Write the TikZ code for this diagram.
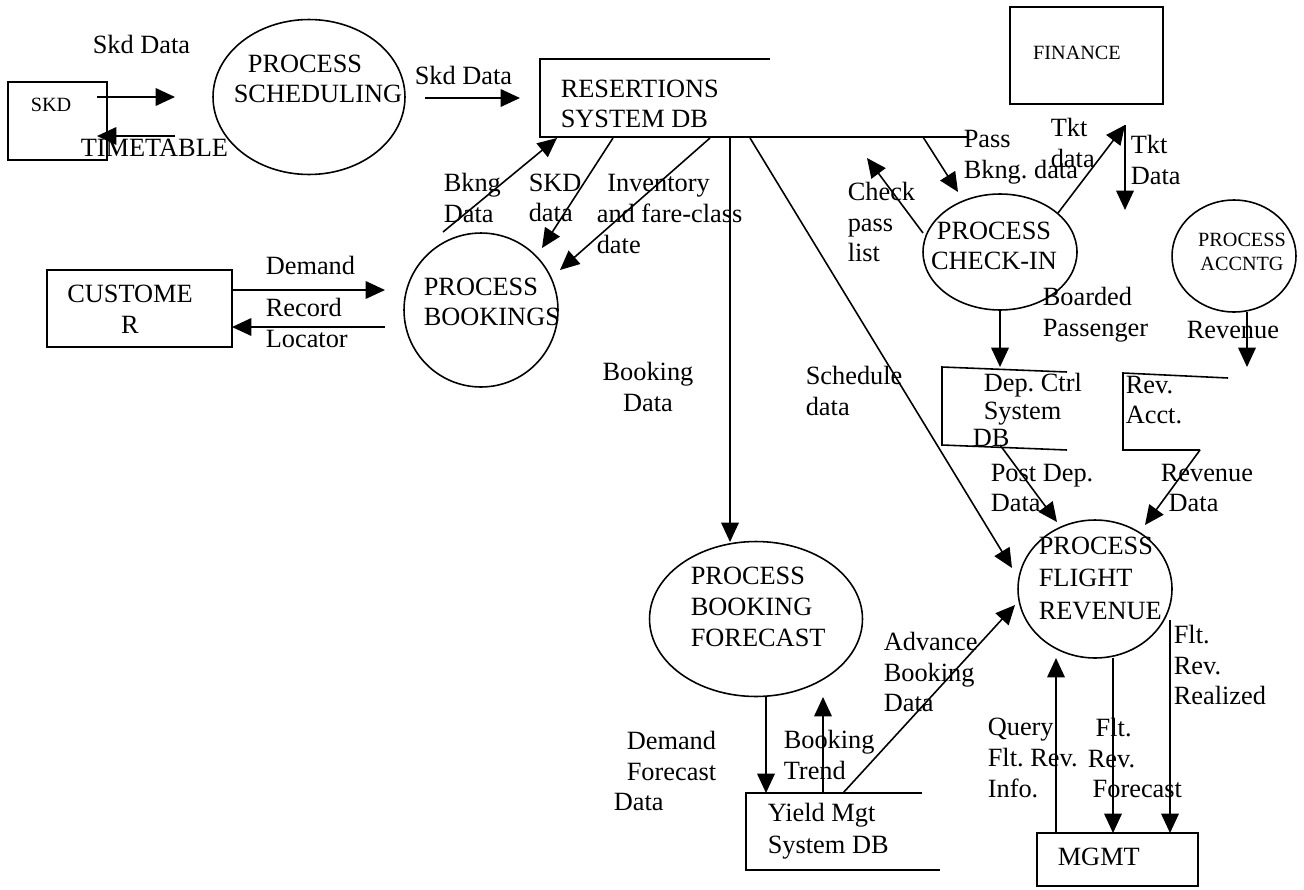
\documentclass[tikz,border=0pt]{standalone}
\usepackage{fontspec}
\setmainfont{Liberation Serif}
\usetikzlibrary{arrows.meta,shapes.geometric}
\frenchspacing
\begin{document}
\begin{tikzpicture}[x=0.02cm,y=-0.02cm,
  line width=0.9pt,
  flow/.style={-{Triangle[length=11pt,width=10pt]}},
  proc/.style={draw,ellipse,inner sep=0pt},
  ent/.style={draw,rectangle,inner sep=0pt},
  lbl/.style={anchor=west,align=left,inner sep=0pt,font=\fontsize{15}{17.5}\selectfont},
  clbl/.style={align=center,inner sep=0pt,font=\fontsize{15}{17.5}\selectfont},
  small/.style={align=center,inner sep=0pt,font=\fontsize{11.5}{14}\selectfont},
]
\useasboundingbox (0,0) rectangle (1304,889);

% ---------- external entities ----------
\node[ent,minimum width=1.98cm,minimum height=1.56cm] (skd) at (57.5,121) {};
\node[small,anchor=west] (skdT) at (30,105) {SKD};
\node[ent,minimum width=3.70cm,minimum height=1.54cm] (cust) at (139.5,308.5) {};
\node[clbl] (custT) at (130,309) {CUSTOME\\R};
\node[ent,minimum width=3.06cm,minimum height=1.94cm] (fin) at (1086.5,55.5) {};
\node[small] (finT) at (1077,53) {FINANCE};
\node[ent,minimum width=3.22cm,minimum height=1.06cm] (mgmt) at (1117.5,859.5) {};
\node[lbl] (mgmtT) at (1057,857) {MGMT};

% ---------- processes ----------
\node[proc,minimum width=3.84cm,minimum height=3.10cm] (sched) at (309,97) {};
\node[lbl] (schedT) at (233,79) {\hspace*{8pt}PROCESS\\SCHEDULING};
\node[proc,minimum width=3.08cm,minimum height=3.08cm] (book) at (481,310) {};
\node[lbl] (bookT) at (423,302) {PROCESS\\BOOKINGS};
\node[proc,minimum width=3.08cm,minimum height=2.32cm] (checkin) at (1000,252) {};
\node[clbl] (checkinT) at (994,246) {PROCESS\\CHECK-IN};
\node[proc,minimum width=2.48cm,minimum height=2.24cm] (accntg) at (1234,256) {};
\node[small] (accntgT) at (1242,252) {PROCESS\\ACCNTG};
\node[proc,minimum width=3.08cm,minimum height=2.76cm] (flight) at (1095,589) {};
\node[lbl,font=\fontsize{15}{18.5}\selectfont] (flightT) at (1038,578) {PROCESS\\FLIGHT\\REVENUE};
\node[proc,minimum width=4.26cm,minimum height=3.10cm] (fcast) at (756,619) {};
\node[lbl,font=\fontsize{15}{17.8}\selectfont] (fcastT) at (690,607) {PROCESS\\BOOKING\\FORECAST};

% ---------- data stores ----------
\draw (770,59) -- (540,59) -- (540,137) -- (967,137);
\node[lbl] (resT) at (560,104) {RESERTIONS\\SYSTEM DB};
\draw (1067,372) -- (942,367) -- (942,445) -- (1067,450);
\node[lbl,font=\fontsize{15}{15.6}\selectfont] (depT) at (983,410) {Dep. Ctrl\\System\\\hspace*{-6.2pt}DB};
\draw (1228,378) -- (1123,373) -- (1123,450) -- (1200,450);
\node[lbl] (revT) at (1125,400) {Rev.\\Acct.};
\draw (922,793) -- (746,793) -- (746,870) -- (940,870);
\node[lbl,font=\fontsize{15}{18.5}\selectfont] (yieldT) at (767,831) {Yield Mgt\\System DB};

% ---------- flows ----------
\coordinate (f1a) at (97,97);    \coordinate (f1b) at (175,97);
\draw[flow] (f1a) -- (f1b);
\node[lbl] (f1T) at (92,44) {Skd Data};
\coordinate (f2a) at (175,136);  \coordinate (f2b) at (97,136);
\draw[flow] (f2a) -- (f2b);
\node[lbl] (f2T) at (80,148) {TIMETABLE};
\coordinate (f3a) at (425,98);   \coordinate (f3b) at (520,98);
\draw[flow] (f3a) -- (f3b);
\node[lbl] (f3T) at (414,75) {Skd Data};

\coordinate (f4a) at (443,232);  \coordinate (f4b) at (557,138);
\draw[flow] (f4a) -- (f4b);
\node[lbl] (f4T) at (443,198) {Bkng\\Data};
\coordinate (f5a) at (613,138);  \coordinate (f5b) at (542,248);
\draw[flow] (f5a) -- (f5b);
\node[lbl] (f5T) at (528,198) {SKD\\data};
\coordinate (f6a) at (710,138);  \coordinate (f6b) at (560,270);
\draw[flow] (f6a) -- (f6b);
\node[lbl] (f6T) at (596,214) {\hspace*{6pt}Inventory\\and fare-class\\date};

\coordinate (f7a) at (730,138);  \coordinate (f7b) at (730,542);
\draw[flow] (f7a) -- (f7b);
\node[clbl] (f7T) at (648,387) {Booking\\Data};
\coordinate (f8a) at (750,138);  \coordinate (f8b) at (1012,568);
\draw[flow] (f8a) -- (f8b);
\node[lbl] (f8T) at (805,391) {Schedule\\data};

\coordinate (f9a) at (923,137);  \coordinate (f9b) at (958,192);
\draw[flow] (f9a) -- (f9b);
\node[lbl] (f9T) at (963,157) {Pass\\Bkng. data};
\coordinate (f10a) at (923,233); \coordinate (f10b) at (867,158);
\draw[flow] (f10a) -- (f10b);
\node[lbl] (f10T) at (847,222) {Check\\pass\\list};
\coordinate (f11a) at (1058,213); \coordinate (f11b) at (1125,125);
\draw[flow] (f11a) -- (f11b);
\node[lbl] (f11T) at (1050,143) {Tkt\\data};
\coordinate (f12a) at (1125,125); \coordinate (f12b) at (1125,210);
\draw[flow] (f12a) -- (f12b);
\node[lbl] (f12T) at (1130,160) {Tkt\\Data};

\coordinate (f13b) at (1000,367);
\draw[flow] (checkin.south) -- (f13b);
\node[lbl] (f13T) at (1042,315) {Boarded\\Passenger};
\coordinate (f14a) at (1247,312); \coordinate (f14b) at (1247,367);
\draw[flow] (f14a) -- (f14b);
\node[lbl] (f14T) at (1186,330) {Revenue};

\coordinate (f15a) at (1000,445); \coordinate (f15b) at (1057,522);
\draw[flow] (f15a) -- (f15b);
\node[lbl] (f15T) at (990,488) {Post Dep.\\Data};
\coordinate (f16a) at (1200,450); \coordinate (f16b) at (1145,525);
\draw[flow] (f16a) -- (f16b);
\node[lbl] (f16T) at (1160,488) {Revenue\\\hspace*{4.5pt}Data};

\coordinate (f17a) at (843,793); \coordinate (f17b) at (1015,605);
\draw[flow] (f17a) -- (f17b);
\node[lbl] (f17T) at (883,672) {Advance\\Booking\\Data};
\coordinate (f18a) at (766,697); \coordinate (f18b) at (766,793);
\draw[flow] (f18a) -- (f18b);
\node[lbl] (f18T) at (613,771) {\hspace*{7.4pt}Demand\\\hspace*{7.4pt}Forecast\\Data};
\coordinate (f19a) at (823,793); \coordinate (f19b) at (823,697);
\draw[flow] (f19a) -- (f19b);
\node[lbl] (f19T) at (783,755) {Booking\\Trend};

\coordinate (f20a) at (1056,833); \coordinate (f20b) at (1056,658);
\draw[flow] (f20a) -- (f20b);
\node[lbl] (f20T) at (987,758) {Query\\Flt. Rev.\\Info.};
\coordinate (f21a) at (1113,658); \coordinate (f21b) at (1113,833);
\draw[flow] (f21a) -- (f21b);
\node[lbl] (f21T) at (1087,758) {\hspace*{4.5pt}Flt.\\Rev.\\\hspace*{2.8pt}Forecast};
\coordinate (f22a) at (1170,620); \coordinate (f22b) at (1170,833);
\draw[flow] (f22a) -- (f22b);
\node[lbl] (f22T) at (1173,665) {Flt.\\Rev.\\Realized};

\coordinate (f23a) at (232,290); \coordinate (f23b) at (385,290);
\draw[flow] (f23a) -- (f23b);
\node[lbl] (f23T) at (265,265) {Demand};
\coordinate (f24a) at (385,327); \coordinate (f24b) at (232,327);
\draw[flow] (f24a) -- (f24b);
\node[lbl] (f24T) at (265,323) {Record\\Locator};
\end{tikzpicture}
\end{document}
